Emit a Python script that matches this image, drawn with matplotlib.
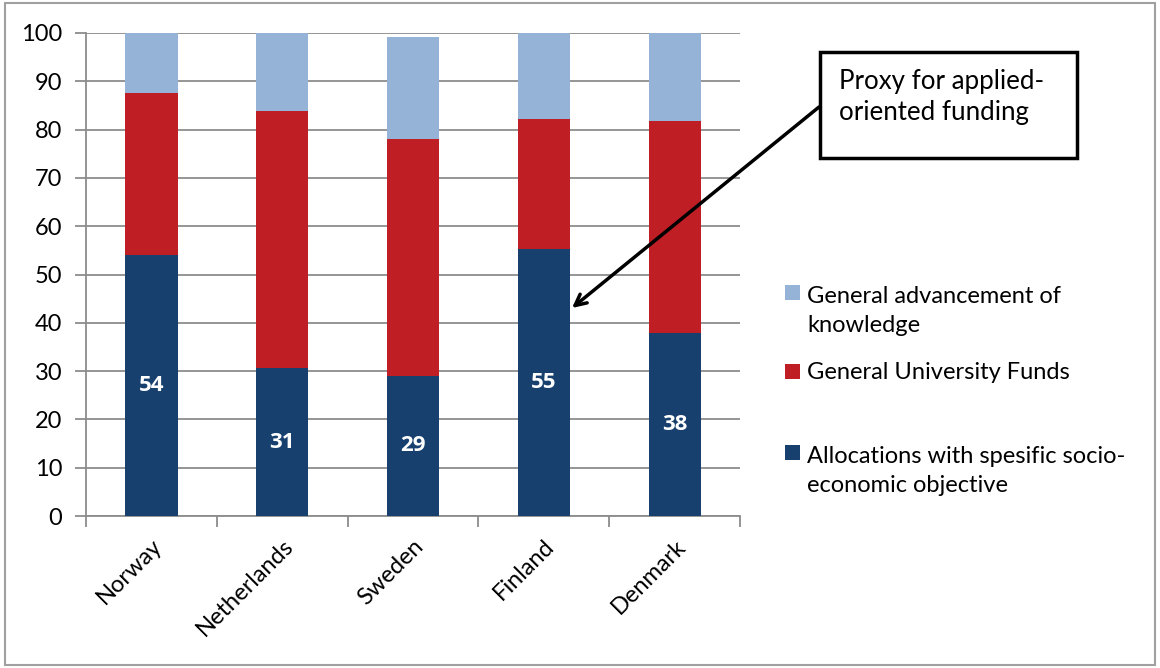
"""
Stacked bar chart: shares of public R&D funding by type, Nordic countries + Netherlands
"""

import matplotlib.pyplot as plt
from matplotlib.patches import Rectangle

plt.rcParams['font.family'] = ['Lato', 'DejaVu Sans']

# Data
countries = ['Norway', 'Netherlands', 'Sweden', 'Finland', 'Denmark']
allocations = [54.0, 30.6, 29.0, 55.3, 37.9]
university_funds = [33.6, 53.3, 49.0, 26.9, 43.9]
advancement = [12.4, 16.1, 21.2, 17.8, 18.2]
labels = ['54', '31', '29', '55', '38']
series_names = ['General advancement of\nknowledge',
                'General University Funds',
                'Allocations with spesific socio-\neconomic objective']

dark_blue = '#17406F'
red = '#BE1E24'
light_blue = '#95B3D7'
grey = '#8C8C8C'

W, H = 1160, 668


def fx(px):
    return px / W


def fy(py):
    return 1 - py / H


def plot_data():
    fig = plt.figure(figsize=(11.6, 6.68), dpi=100)
    ax = fig.add_axes([0.0741, 0.2275, 0.5639, 0.7231])

    x = list(range(len(countries)))
    width = 0.4
    bottoms2 = allocations
    bottoms3 = [a + b for a, b in zip(allocations, university_funds)]

    ax.bar(x, allocations, width, color=dark_blue, zorder=3)
    ax.bar(x, university_funds, width, bottom=bottoms2, color=red, zorder=3)
    ax.bar(x, advancement, width, bottom=bottoms3, color=light_blue, zorder=3)

    # Value labels in the middle of the bottom segment
    for xi, val, lab in zip(x, allocations, labels):
        ax.text(xi, val / 2, lab, ha='center', va='center', color='white',
                fontsize=16, fontweight='bold', family=['Open Sans', 'DejaVu Sans'], zorder=4)

    # Axes styling
    ax.set_xlim(-0.5, len(countries) - 0.5)
    ax.set_ylim(0, 100)
    ax.set_yticks(range(0, 101, 10))
    ax.yaxis.grid(True, color=grey, linewidth=1.3, zorder=0)
    ax.tick_params(axis='y', labelsize=17, length=8, width=1.3, color=grey, pad=9)

    ax.set_xticks(x)
    ax.set_xticklabels(countries, rotation=45, ha='right', rotation_mode='anchor', fontsize=17)
    ax.tick_params(axis='x', which='major', length=0, pad=14)
    ax.set_xticks([i - 0.5 for i in range(len(countries) + 1)], minor=True)
    ax.tick_params(axis='x', which='minor', length=8, width=1.3, color=grey)

    for side in ['top', 'right']:
        ax.spines[side].set_visible(False)
    for side in ['left', 'bottom']:
        ax.spines[side].set_color(grey)
        ax.spines[side].set_linewidth(1.3)

    # Legend drawn by hand to keep Excel's uneven spacing
    legend_colors = [light_blue, red, dark_blue]
    legend_base = [300, 379, 460]
    for name, col, ypx in zip(series_names, legend_colors, legend_base):
        fig.patches.append(Rectangle((fx(785), fy(ypx)), fx(15), 15 / H,
                                     transform=fig.transFigure, facecolor=col, edgecolor='none'))
        last_base = ypx + 32 * name.count('\n')
        fig.text(fx(807), fy(last_base), name, ha='left', va='baseline', fontsize=17,
                 linespacing=1.49)

    # Callout box with arrow
    fig.patches.append(Rectangle((fx(820), fy(158)), fx(1077) - fx(820), (158 - 52) / H,
                                 transform=fig.transFigure, facecolor='white',
                                 edgecolor='black', linewidth=2.5, zorder=5))
    fig.text(fx(839), fy(97), 'Proxy for applied-\noriented funding', ha='left', va='center',
             fontsize=18.6, linespacing=1.28, zorder=6)
    ax.annotate('', xy=(fx(572), fy(308)), xycoords='figure fraction',
                xytext=(fx(819), fy(107)), textcoords='figure fraction',
                arrowprops=dict(arrowstyle='->,head_length=0.8,head_width=0.4', color='black',
                                linewidth=2.5, shrinkA=0, shrinkB=0))

    # Outer frame
    fig.patches.append(Rectangle((0.004, 0.005), 0.992, 0.99, transform=fig.transFigure,
                                 facecolor='none', edgecolor='#A0A0A0', linewidth=1.5))

    plt.savefig('out.png', dpi=100)


if __name__ == "__main__":
    plot_data()
